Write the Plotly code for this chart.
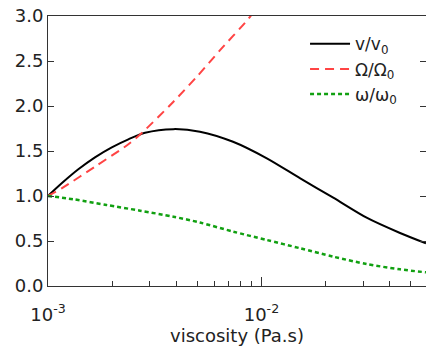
import plotly.graph_objects as go

# --- data ---
x_v = [1.0e-3, 1.159e-3, 1.387e-3, 1.66e-3, 1.99e-3, 2.38e-3, 2.85e-3, 3.87e-3, 5.15e-3,
       7.36e-3, 1.06e-2, 1.52e-2, 2.17e-2, 3.11e-2, 4.46e-2, 5.9e-2]
v_ratio = [1.0, 1.141, 1.297, 1.43, 1.541, 1.63, 1.703, 1.743, 1.715,
           1.603, 1.419, 1.196, 0.981, 0.759, 0.589, 0.474]

x_Om = [1.0e-3, 1.159e-3, 1.66e-3, 2.38e-3, 2.75e-3, 3.87e-3, 5.0e-3, 6.4e-3, 8.7e-3, 9.2e-3]
Om_ratio = [1.0, 1.085, 1.326, 1.575, 1.70, 2.048, 2.33, 2.62, 2.97, 3.05]

x_om = [1.0e-3, 1.32e-3, 1.88e-3, 2.70e-3, 3.87e-3, 5.15e-3, 7.38e-3, 1.06e-2, 1.52e-2,
        2.17e-2, 3.11e-2, 4.46e-2, 5.9e-2]
om_ratio = [1.0, 0.963, 0.90, 0.837, 0.77, 0.705, 0.604, 0.511, 0.419,
            0.326, 0.244, 0.185, 0.152]

x_major = [1e-3, 1e-2]
x_major_text = ["10<sup>-3</sup>", "10<sup>-2</sup>"]
x_minor = [2e-3, 3e-3, 4e-3, 5e-3, 6e-3, 7e-3, 8e-3, 9e-3, 2e-2, 3e-2, 4e-2, 5e-2]
y_ticks = [0.0, 0.5, 1.0, 1.5, 2.0, 2.5, 3.0]

FONT = "DejaVu Sans"

fig = go.Figure()
fig.add_trace(go.Scatter(x=x_v, y=v_ratio, mode="lines", name="v/v<sub>0</sub>",
                         line=dict(color="black", width=2, shape="spline", smoothing=0.8)))
fig.add_trace(go.Scatter(x=x_Om, y=Om_ratio, mode="lines", name="Ω/Ω<sub>0</sub>",
                         line=dict(color="#ff4444", width=2, dash="9px,6px", shape="spline", smoothing=0.8)))
fig.add_trace(go.Scatter(x=x_om, y=om_ratio, mode="lines", name="ω/ω<sub>0</sub>",
                         line=dict(color="#11a011", width=2.5, dash="4px,3px", shape="spline", smoothing=0.8)))

fig.update_layout(
    width=426, height=352,
    margin=dict(l=48, r=0, t=16, b=66),
    paper_bgcolor="white", plot_bgcolor="white",
    font=dict(family=FONT, size=18, color="#222"),
    showlegend=True,
    legend=dict(x=0.68, y=0.962, xanchor="left", yanchor="top",
                bgcolor="rgba(0,0,0,0)", font=dict(size=17),
                itemwidth=40, tracegroupgap=0),
)
fig.update_xaxes(
    type="log", range=[-3, -1.229],
    tickmode="array", tickvals=x_major, ticktext=x_major_text,
    ticks="inside", ticklen=9, tickcolor="#333", tickwidth=1,
    ticklabelstandoff=12,
    minor=dict(tickmode="array", tickvals=x_minor, ticks="inside", ticklen=5, tickcolor="#333"),
    showline=True, linecolor="#333", linewidth=1, mirror=True,
    showgrid=False, zeroline=False,
    title=dict(text="viscosity (Pa.s)", font=dict(size=18), standoff=4),
)
fig.update_yaxes(
    range=[0, 3], tickmode="array", tickvals=y_ticks, tickformat=".1f",
    ticks="inside", ticklen=6, tickcolor="#333",
    showline=True, linecolor="#333", linewidth=1, mirror="ticks",
    showgrid=False, zeroline=False,
)

fig.write_html("out.html")
